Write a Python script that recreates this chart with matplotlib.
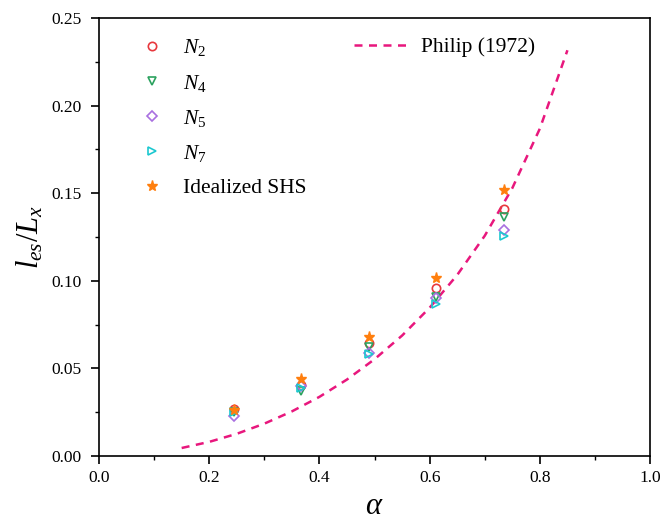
import matplotlib
matplotlib.use('Agg')
import matplotlib.pyplot as plt
from matplotlib.ticker import MultipleLocator, FormatStrFormatter

plt.rcParams['font.family'] = 'Liberation Serif'
plt.rcParams['mathtext.fontset'] = 'custom'
plt.rcParams['mathtext.rm'] = 'Liberation Serif'
plt.rcParams['mathtext.it'] = 'Liberation Serif:italic'

# data
alpha = [0.245, 0.367, 0.490, 0.612, 0.735]
n2 = [0.027, 0.0405, 0.0645, 0.096, 0.141]
n4 = [0.025, 0.037, 0.062, 0.091, 0.1365]
n5 = [0.023, 0.040, 0.059, 0.090, 0.129]
n7 = [0.025, 0.039, 0.058, 0.087, 0.1255]
shs = [0.026, 0.044, 0.068, 0.1015, 0.152]

# dashed curve, sampled from the plot
philip_a = [0.15, 0.2, 0.25, 0.3, 0.35, 0.4, 0.45, 0.5, 0.55, 0.6,
            0.65, 0.7, 0.75, 0.8, 0.85]
philip_y = [0.0045, 0.008, 0.0126, 0.0184, 0.0254, 0.0337, 0.0436, 0.0552,
            0.0687, 0.0846, 0.1033, 0.1257, 0.1529, 0.1869, 0.2316]

fig = plt.figure(figsize=(6.6, 5.24), dpi=100)
ax = fig.add_axes([0.15, 0.13, 0.835, 0.8356])

line, = ax.plot(philip_a, philip_y, '--', color='#e8177d', lw=1.8,
                dashes=(3.2, 2.6), label='Philip (1972)')
kw = dict(ls='none', ms=6, mew=1.2)
h2, = ax.plot(alpha, n2, 'o', color='#e8383d', mfc='none', label='$N_2$', **kw)
h4, = ax.plot(alpha, n4, 'v', color='#2ca25f', mfc='none', label='$N_4$', **kw)
h5, = ax.plot(alpha, n5, 'D', color='#a970e0', mfc='none', label='$N_5$',
              ls='none', ms=5, mew=1.2)
h7, = ax.plot(alpha, n7, '>', color='#1cc8d0', mfc='none', label='$N_7$', **kw)
hs, = ax.plot(alpha, shs, '*', color='#ff7f0e', ls='none', ms=8,
              label='Idealized SHS')

ax.set_xlim(0, 1)
ax.set_ylim(0, 0.25)
ax.xaxis.set_major_locator(MultipleLocator(0.2))
ax.xaxis.set_minor_locator(MultipleLocator(0.1))
ax.yaxis.set_major_locator(MultipleLocator(0.05))
ax.yaxis.set_minor_locator(MultipleLocator(0.025))
ax.xaxis.set_major_formatter(FormatStrFormatter('%.1f'))
ax.yaxis.set_major_formatter(FormatStrFormatter('%.2f'))
ax.tick_params(which='major', direction='out', length=5.5, width=1.2,
               labelsize=12.5)
ax.tick_params(axis='y', which='major', pad=7)
ax.tick_params(axis='x', which='major', pad=5)
ax.tick_params(which='minor', direction='out', length=3, width=1.0)
for s in ax.spines.values():
    s.set_linewidth(1.2)

ax.set_xlabel(r'$\alpha$', fontsize=22, labelpad=4)
ax.set_ylabel(r'$l_{es}/L_x$', fontsize=22, labelpad=4)

leg1 = ax.legend(handles=[h2, h4, h5, h7, hs], loc='upper left',
                 bbox_to_anchor=(0.038, 1.0), frameon=False, fontsize=15.5,
                 handlelength=1.2, handletextpad=0.85, labelspacing=0.66)
ax.add_artist(leg1)
ax.legend(handles=[line], loc='upper left', bbox_to_anchor=(0.428, 1.0),
          frameon=False, fontsize=15.5, handlelength=2.6, handletextpad=0.5)

fig.savefig('out.png', dpi=100)
